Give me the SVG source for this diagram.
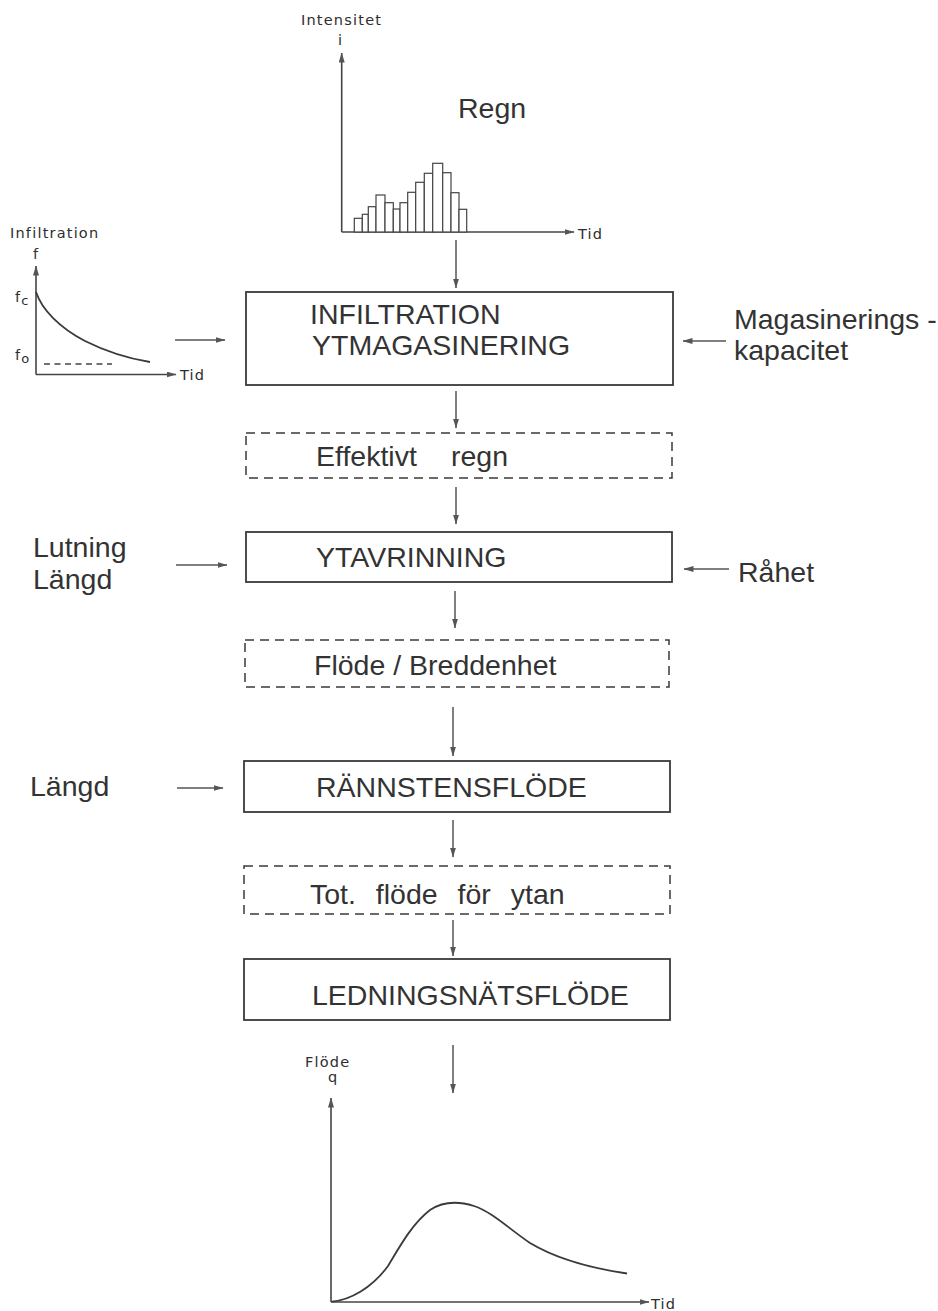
<svg xmlns="http://www.w3.org/2000/svg" width="938" height="1311" viewBox="0 0 938 1311">
<defs>
<marker id="ah" markerUnits="userSpaceOnUse" markerWidth="10" markerHeight="6" refX="9.5" refY="3" orient="auto"><path d="M0,0 L10,3 L0,6 z" fill="#555"/></marker>
<style>
.box{fill:none;stroke:#3a3a3a;stroke-width:1.8}
.dbox{fill:none;stroke:#3a3a3a;stroke-width:1.5;stroke-dasharray:9 6}
.big{font-family:"Liberation Sans",Arial,sans-serif;font-size:28.5px;fill:#333}
.sm{font-family:"DejaVu Sans",sans-serif;font-size:14.5px;letter-spacing:1.2px;fill:#2e2e2e}
.conn{stroke:#555;stroke-width:1.5;fill:none;marker-end:url(#ah)}
.axa{stroke:#444;stroke-width:1.6;fill:none;marker-end:url(#ah)}
.bar{fill:#fff;stroke:#444;stroke-width:1.2}
.crv{fill:none;stroke:#3a3a3a;stroke-width:1.8}
</style>
</defs>
<rect x="0" y="0" width="938" height="1311" fill="#fff"/>

<g id="chart-regn">
<text class="sm" x="301" y="25">Intensitet</text>
<text class="sm" x="338" y="45">i</text>
<text class="big" x="458" y="118">Regn</text>
<line class="axa" x1="341.7" y1="232" x2="341.7" y2="53"/>
<line class="axa" x1="341.7" y1="232" x2="574" y2="232"/>
<text class="sm" x="578" y="239">Tid</text>
<rect class="bar" x="354.3" y="218.3" width="8" height="13.7"/>
<rect class="bar" x="362.3" y="214.3" width="6" height="17.7"/>
<rect class="bar" x="368.3" y="206.7" width="7.7" height="25.3"/>
<rect class="bar" x="376" y="195" width="9" height="37"/>
<rect class="bar" x="385" y="202.7" width="8.3" height="29.3"/>
<rect class="bar" x="393.3" y="209" width="6.7" height="23"/>
<rect class="bar" x="400" y="202.7" width="7.7" height="29.3"/>
<rect class="bar" x="407.7" y="192.3" width="8" height="39.7"/>
<rect class="bar" x="415.7" y="182.3" width="8.6" height="49.7"/>
<rect class="bar" x="424.3" y="173.3" width="8.4" height="58.7"/>
<rect class="bar" x="432.7" y="163.3" width="10" height="68.7"/>
<rect class="bar" x="442.7" y="172.7" width="8.3" height="59.3"/>
<rect class="bar" x="451" y="192.7" width="8" height="39.3"/>
<rect class="bar" x="459" y="209.3" width="7.7" height="22.7"/>
</g>

<g id="chart-infiltration">
<text class="sm" x="10" y="238">Infiltration</text>
<text class="sm" x="33" y="259">f</text>
<line class="axa" x1="36" y1="374.5" x2="36" y2="266"/>
<line class="axa" x1="36" y1="374.5" x2="176" y2="374.5"/>
<text class="sm" x="180" y="380">Tid</text>
<text class="sm" x="15" y="302">f<tspan dy="3" font-size="13">c</tspan></text>
<text class="sm" x="15" y="360">f<tspan dy="3" font-size="13">o</tspan></text>
<path class="crv" d="M36,292 C42,310 60,328 85,341 C105,351 125,358 150,362"/>
<line x1="44" y1="364" x2="112" y2="364" stroke="#444" stroke-width="1.4" stroke-dasharray="6 4.5"/>
</g>

<g id="node-infiltration">
<rect class="box" x="246" y="292" width="427" height="93"/>
<text class="big" x="310" y="324">INFILTRATION</text>
<text class="big" x="312" y="355">YTMAGASINERING</text>
</g>

<g id="input-magasinering">
<text class="big" x="734" y="329" font-size="27.5">Magasinerings -</text>
<text class="big" x="734" y="360" font-size="27.5">kapacitet</text>
</g>

<g id="node-effektivt-regn">
<rect class="dbox" x="246" y="433" width="426" height="45"/>
<text class="big" y="466"><tspan x="316">Effektivt</tspan><tspan x="451">regn</tspan></text>
</g>

<g id="input-lutning">
<text class="big" x="33" y="557">Lutning</text>
<text class="big" x="33" y="589">Längd</text>
</g>

<g id="node-ytavrinning">
<rect class="box" x="246" y="532" width="426" height="50"/>
<text class="big" x="316" y="567">YTAVRINNING</text>
</g>

<g id="input-rahet">
<text class="big" x="738" y="582">Råhet</text>
</g>

<g id="node-flode-breddenhet">
<rect class="dbox" x="245" y="640" width="424" height="47"/>
<text class="big" x="314" y="675">Flöde / Breddenhet</text>
</g>

<g id="input-langd">
<text class="big" x="30" y="796">Längd</text>
</g>

<g id="node-rannstensflode">
<rect class="box" x="244" y="761" width="426" height="51"/>
<text class="big" x="316" y="797">RÄNNSTENSFLÖDE</text>
</g>

<g id="node-tot-flode">
<rect class="dbox" x="244" y="866" width="426" height="48"/>
<text class="big" x="310" y="904" word-spacing="12">Tot. flöde för ytan</text>
</g>

<g id="node-ledningsnatsflode">
<rect class="box" x="244" y="959" width="426" height="61"/>
<text class="big" x="312" y="1005">LEDNINGSNÄTSFLÖDE</text>
</g>

<g id="chart-flode">
<text class="sm" x="305" y="1067">Flöde</text>
<text class="sm" x="328" y="1082">q</text>
<line class="axa" x1="331" y1="1302" x2="331" y2="1098"/>
<line class="axa" x1="331" y1="1302" x2="649" y2="1302"/>
<text class="sm" x="651" y="1309">Tid</text>
<path class="crv" d="M331.7,1301.7 C350,1300 372,1288 388,1266 C400,1246 412,1224 430,1210 C442,1202 458,1201 474,1206 C492,1212 508,1228 530,1243 C555,1258 590,1268 627,1273.5"/>
</g>

<g id="connectors">
<line class="conn" x1="456" y1="240" x2="456" y2="288"/>
<line class="conn" x1="456" y1="391" x2="456" y2="428"/>
<line class="conn" x1="456" y1="487" x2="456" y2="524"/>
<line class="conn" x1="455" y1="591" x2="455" y2="628"/>
<line class="conn" x1="453" y1="707" x2="453" y2="756"/>
<line class="conn" x1="453" y1="820" x2="453" y2="857"/>
<line class="conn" x1="453" y1="920" x2="453" y2="956"/>
<line class="conn" x1="453" y1="1045" x2="453" y2="1093"/>
<line class="conn" x1="175" y1="340" x2="225" y2="340"/>
<line class="conn" x1="726" y1="341" x2="683" y2="341"/>
<line class="conn" x1="176" y1="565" x2="227" y2="565"/>
<line class="conn" x1="729" y1="569" x2="684" y2="569"/>
<line class="conn" x1="177" y1="788" x2="223" y2="788"/>
</g>
</svg>
